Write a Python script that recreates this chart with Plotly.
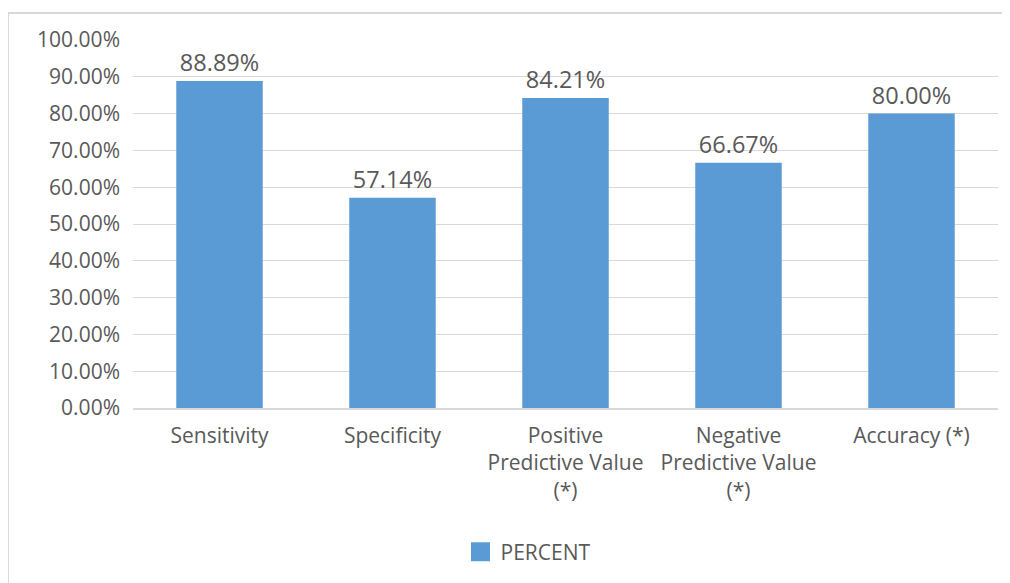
import plotly.graph_objects as go

categories = ["Sensitivity", "Specificity", "Positive<br>Predictive Value<br>(*)",
              "Negative<br>Predictive Value<br>(*)", "Accuracy (*)"]
percent = [0.8889, 0.5714, 0.8421, 0.6667, 0.80]
series_name = "PERCENT"

OFF = 8  # page body margin
W, H = 1010 - OFF, 583 - OFF
L, R, T, B = 133 - OFF, 998 - OFF, 40 - OFF, 409 - OFF

def px_x(p):
    return (p - OFF - L) / (R - L)

def px_y(p):
    return (B - (p - OFF)) / (B - T)

FONT = "Open Sans"
GRAY = "#595959"
BLUE = "#5B9BD5"

fig = go.Figure()
fig.add_trace(go.Bar(
    x=categories, y=percent, name=series_name, showlegend=False,
    marker=dict(color=BLUE, line=dict(width=0)),
    texttemplate="%{y:.2%}", textposition="outside",
    textfont=dict(family=FONT, size=23.5, color=GRAY),
    cliponaxis=False,
))
# legend entry with a larger square swatch
fig.add_trace(go.Scatter(
    x=[None], y=[None], mode="markers", name=series_name,
    marker=dict(symbol="square", size=16, color=BLUE, line=dict(color=BLUE, width=3)),
))

fig.update_layout(
    width=W, height=H,
    margin=dict(l=L, r=W - R, t=T, b=H - B),
    paper_bgcolor="white", plot_bgcolor="white",
    bargap=0.5,
    showlegend=True,
    legend=dict(orientation="h", x=px_x(528), xanchor="center", y=px_y(552), yanchor="middle",
                font=dict(family=FONT, size=21, color=GRAY), itemsizing="trace",
                itemwidth=30),
    font=dict(family=FONT, color=GRAY),
    xaxis=dict(showgrid=False, showline=True, linecolor="#D9D9D9", linewidth=1.5,
               tickfont=dict(family=FONT, size=21, color=GRAY), ticks="",
               ticklabelstandoff=8),
    yaxis=dict(range=[0, 1], dtick=0.1, tickformat=".2%", showgrid=True,
               gridcolor="#D9D9D9", gridwidth=1.3, zeroline=False, showline=False,
               tickfont=dict(family=FONT, size=21, color=GRAY), ticks="",
               ticklabelstandoff=12),
    shapes=[dict(type="rect", xref="paper", yref="paper",
                 x0=px_x(OFF), x1=px_x(1030), y0=px_y(620), y1=px_y(13),
                 line=dict(color="#D9D9D9", width=2), fillcolor="rgba(0,0,0,0)",
                 layer="below")],
)

fig.write_html("out.html")
